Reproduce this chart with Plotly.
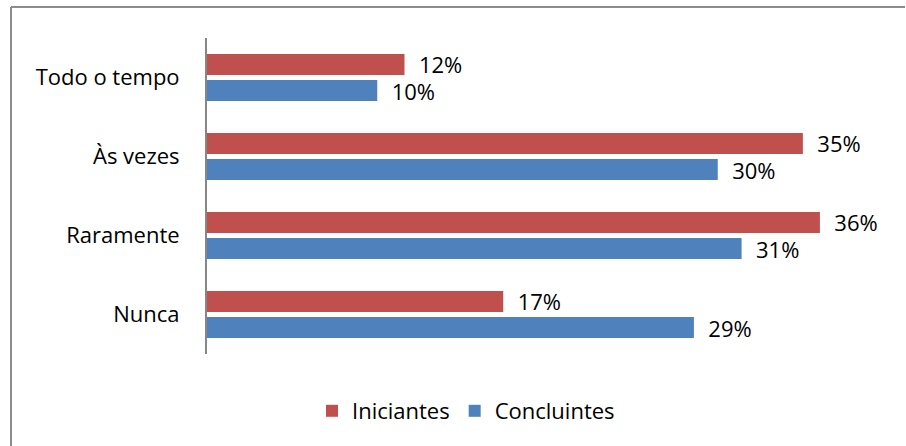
import plotly.graph_objects as go

categories = ["Todo o tempo", "Às vezes", "Raramente", "Nunca"]
iniciantes = [0.116, 0.350, 0.360, 0.174]
concluintes = [0.100, 0.300, 0.314, 0.286]
series_names = ["Iniciantes", "Concluintes"]
colors = ["#C0504D", "#4F81BD"]

FONT = "Open Sans"
FS = 22
W, H = 906, 446
ML, MR, MT, MB = 207, 18, 38, 92
PW, PH = W - ML - MR, H - MT - MB


def px_x(px):
    return (px - ML) / PW


def px_y(py):
    return (H - MB - py) / PH


fig = go.Figure()
for name, vals, col in zip(series_names, [iniciantes, concluintes], colors):
    fig.add_trace(go.Bar(
        y=categories, x=vals, name=name, orientation="h",
        marker=dict(color=col, line=dict(width=0)),
        text=["  " + f"{v:.0%}" for v in vals],
        textposition="outside", cliponaxis=False, constraintext="none",
        textfont=dict(family=FONT, size=FS, color="#000000"),
    ))

fig.update_layout(
    width=W, height=H,
    margin=dict(l=ML, r=MR, t=MT, b=MB, autoexpand=False),
    paper_bgcolor="white", plot_bgcolor="white",
    barmode="group", bargap=0.34, bargroupgap=0.19,
    showlegend=True,
    legend=dict(orientation="h", x=px_x(466), xanchor="center",
                y=px_y(390), yanchor="top",
                font=dict(family=FONT, size=FS, color="#000000"),
                traceorder="normal"),
    xaxis=dict(range=[0, 0.4], showgrid=False, showticklabels=False, zeroline=False,
               showline=False, ticks=""),
    yaxis=dict(autorange="reversed", showgrid=False, showline=True, linecolor="#868686",
               linewidth=2, ticks="", ticklen=0, ticklabelstandoff=21,
               tickfont=dict(family=FONT, size=FS, color="#000000")),
    font=dict(family=FONT),
)

# outer chart border (top and left visible)
fig.add_shape(type="line", xref="paper", yref="paper",
              x0=px_x(11), x1=px_x(905), y0=px_y(7), y1=px_y(7),
              line=dict(color="#8C8C8C", width=2))
fig.add_shape(type="line", xref="paper", yref="paper",
              x0=px_x(11), x1=px_x(11), y0=px_y(7), y1=px_y(446),
              line=dict(color="#8C8C8C", width=2))

fig.write_html("out.html")
